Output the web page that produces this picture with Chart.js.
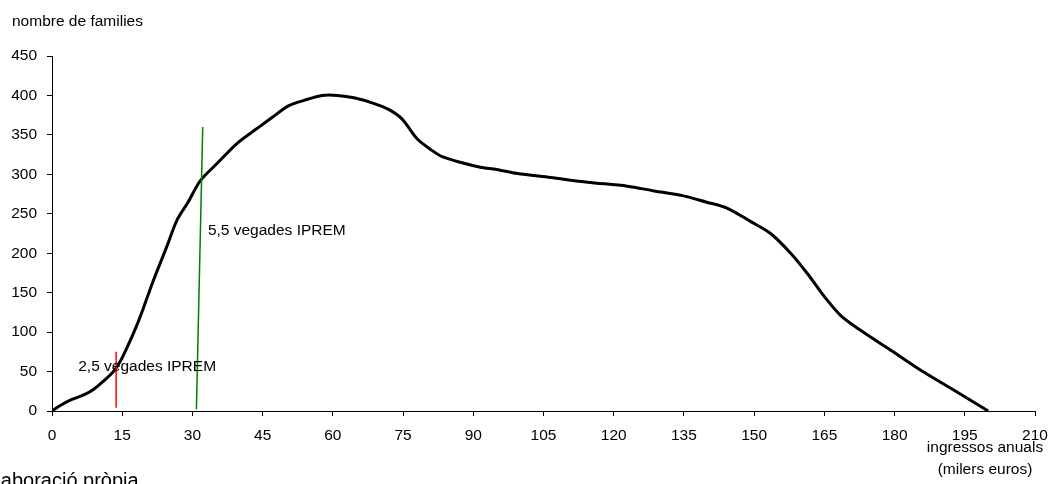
<!DOCTYPE html>
<html>
<head>
<meta charset="utf-8">
<script src="https://cdn.jsdelivr.net/npm/chart.js@4/dist/chart.umd.min.js"></script>
<style>
  html, body { margin: 0; padding: 0; background: #fff; overflow: hidden; }
  canvas { display: block; }
</style>
</head>
<body>
<canvas id="c" width="1051" height="484"></canvas>
<script>
// ---- Data ----
const incomeK = [0, 1.5, 4, 7, 9, 11, 13, 14.5, 16, 18, 19.5, 21.5, 24.5, 26.7, 29, 31.7, 35.3, 39.5, 43.8, 47, 50.6, 54, 57.7, 61, 64.5, 68.7, 72, 74.8, 78, 81, 83.5, 88, 91.5, 95, 99.4, 106.5, 114.4, 122.9, 128.6, 134.7, 139.7, 144.3, 149.3, 153.5, 157.8, 161.4, 165, 168.5, 172.8, 179.2, 186.3, 192.8, 200];
const families = [0, 6, 14, 21, 28, 38, 49, 62, 80, 107, 130, 163, 208, 242, 264, 292, 314, 339, 358, 372, 387, 394, 400, 400, 397, 390, 382, 370, 345, 331, 322, 314, 309, 306, 301, 296, 290, 285, 279, 273, 265, 257, 240, 225, 200, 174, 145, 121, 102, 77, 49, 26, 0];

const iprem25X = [13.7, 13.7];
const iprem25Y = [4, 75];
const iprem55X = [30.85, 32.2];
const iprem55Y = [2, 360];

const xTicks = [0, 15, 30, 45, 60, 75, 90, 105, 120, 135, 150, 165, 180, 195, 210];
const yTicks = [0, 50, 100, 150, 200, 250, 300, 350, 400, 450];

const labels = {
  yTitle: "nombre de families",
  xTitle1: "ingressos anuals",
  xTitle2: "(milers euros)",
  iprem25: "2,5 vegades IPREM",
  iprem55: "5,5 vegades IPREM",
  source: "Elaboració pròpia"
};
const iprem25LabelPos = [5.6, 55.8];
const iprem55LabelPos = [33.3, 228];

// ---- Build ----
const toPts = (xs, ys) => xs.map((x, i) => ({ x: x, y: ys[i] }));
const FONT = "'Liberation Sans', Arial, sans-serif";

const textPlugin = {
  id: 'texts',
  afterDatasetsDraw(chart) {
    const ctx = chart.ctx;
    const xs = chart.scales.x, ys = chart.scales.y;
    ctx.save();
    ctx.fillStyle = '#000';
    ctx.font = '15.5px ' + FONT;
    ctx.textBaseline = 'middle';
    ctx.textAlign = 'left';
    ctx.fillText(labels.yTitle, 12, 22);
    ctx.fillText(labels.iprem25, xs.getPixelForValue(iprem25LabelPos[0]), ys.getPixelForValue(iprem25LabelPos[1]));
    ctx.fillText(labels.iprem55, xs.getPixelForValue(iprem55LabelPos[0]), ys.getPixelForValue(iprem55LabelPos[1]));
    ctx.textAlign = 'center';
    ctx.fillText(labels.xTitle1, 985, 448);
    ctx.fillText(labels.xTitle2, 985, 470);
    ctx.textAlign = 'left';
    ctx.textBaseline = 'alphabetic';
    ctx.font = '20px ' + FONT;
    ctx.fillText(labels.source, -17, 487);
    ctx.restore();
  }
};

new Chart(document.getElementById('c'), {
  type: 'line',
  data: {
    datasets: [
      {
        data: toPts(incomeK, families),
        borderColor: '#000',
        borderWidth: 3,
        pointRadius: 0,
        tension: 0.3,
        fill: false,
        order: 3
      },
      {
        data: toPts(iprem25X, iprem25Y),
        borderColor: '#FF0000',
        borderWidth: 1.5,
        pointRadius: 0,
        tension: 0,
        fill: false,
        order: 1
      },
      {
        data: toPts(iprem55X, iprem55Y),
        borderColor: '#008000',
        borderWidth: 1.5,
        pointRadius: 0,
        tension: 0,
        fill: false,
        order: 2
      }
    ]
  },
  options: {
    responsive: false,
    animation: false,
    devicePixelRatio: 1,
    layout: { padding: { left: 0, top: 56, right: 16, bottom: 0 } },
    plugins: { legend: { display: false }, tooltip: { enabled: false }, title: { display: false } },
    scales: {
      x: {
        type: 'linear',
        min: 0, max: 210,
        afterBuildTicks: (s) => { s.ticks = xTicks.map(v => ({ value: v })); },
        afterFit: (s) => { s.height = 73; s.paddingRight = 0; s.paddingLeft = 0; },
        ticks: { color: '#000', padding: 10, font: { family: FONT, size: 15.5 }, maxRotation: 0, autoSkip: false },
        grid: { display: true, drawOnChartArea: false, drawTicks: true, tickLength: 5, color: '#000', lineWidth: 1 },
        border: { display: true, color: '#000', width: 1 }
      },
      y: {
        type: 'linear',
        min: 0, max: 450,
        afterBuildTicks: (s) => { s.ticks = yTicks.map(v => ({ value: v })); },
        afterFit: (s) => { s.width = 52; },
        ticks: { color: '#000', padding: 10, font: { family: FONT, size: 15.5 }, autoSkip: false },
        grid: { display: true, drawOnChartArea: false, drawTicks: true, tickLength: 5, color: '#000', lineWidth: 1 },
        border: { display: true, color: '#000', width: 1 }
      }
    }
  },
  plugins: [textPlugin]
});
</script>
</body>
</html>
